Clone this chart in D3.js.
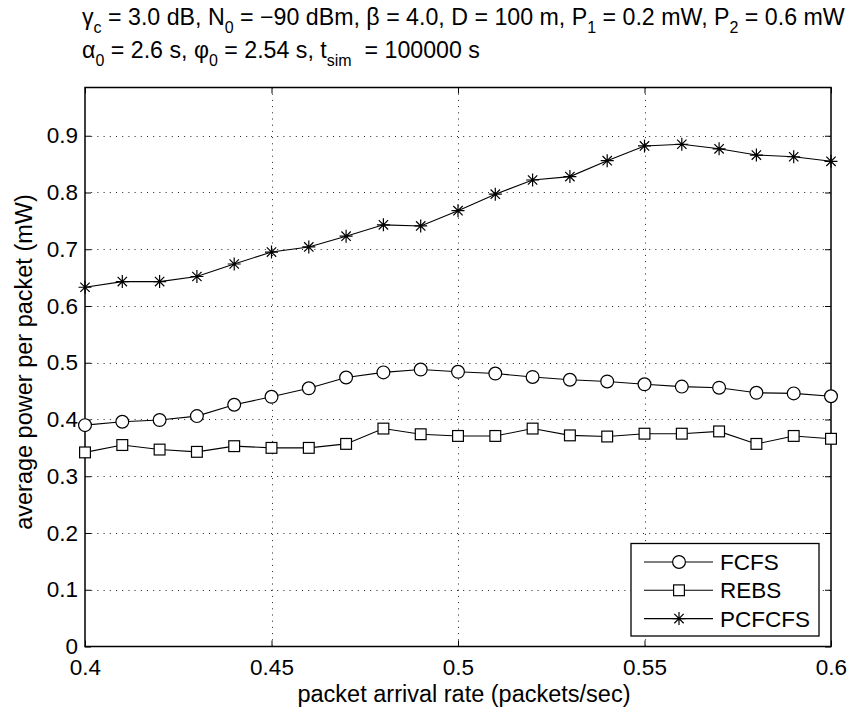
<!DOCTYPE html>
<html>
<head>
<meta charset="utf-8">
<script src="https://cdn.jsdelivr.net/npm/d3@7"></script>
<style>
body { margin: 0; background: #fff; }
text { font-family: "Liberation Sans", Arial, Helvetica, sans-serif; fill: #000; }
</style>
</head>
<body>
<svg id="chart" width="849" height="709"></svg>
<script>
// data
var rates = [0.40,0.41,0.42,0.43,0.44,0.45,0.46,0.47,0.48,0.49,0.50,0.51,0.52,0.53,0.54,0.55,0.56,0.57,0.58,0.59,0.60];
var fcfs = [0.390,0.396,0.399,0.406,0.426,0.440,0.455,0.474,0.483,0.488,0.484,0.481,0.475,0.470,0.467,0.462,0.458,0.456,0.447,0.446,0.441];
var rebs = [0.342,0.355,0.347,0.343,0.353,0.350,0.350,0.357,0.384,0.374,0.371,0.371,0.384,0.372,0.370,0.375,0.375,0.379,0.357,0.371,0.366];
var pcfcfs = [0.633,0.643,0.643,0.652,0.674,0.695,0.704,0.723,0.743,0.741,0.768,0.797,0.822,0.828,0.856,0.882,0.885,0.877,0.866,0.863,0.855];
var seriesNames = ["FCFS","REBS","PCFCFS"];
var seriesMarkers = ["circle","square","star"];
var xTicks = [0.4,0.45,0.5,0.55,0.6];
var xTickLabels = ["0.4","0.45","0.5","0.55","0.6"];
var yTicks = [0,0.1,0.2,0.3,0.4,0.5,0.6,0.7,0.8,0.9];
var yTickLabels = ["0","0.1","0.2","0.3","0.4","0.5","0.6","0.7","0.8","0.9"];

var pLeft = 85, pRight = 831, pTop = 87.5, pBottom = 646.5;

var svg = d3.select("#chart");

var xscale = d3.scaleLinear().domain([0.4,0.6]).range([pLeft,pRight]);
var yscale = d3.scaleLinear().domain([0,0.985]).range([pBottom,pTop]);

// grid
var grid = svg.append("g").attr("class","grid");
grid.selectAll("line.gx")
	.data(xTicks.slice(1,-1))
	.enter().append("line")
		.attr("class","gx")
		.attr("x1",function(d){return Math.round(xscale(d))+0.5;})
		.attr("x2",function(d){return Math.round(xscale(d))+0.5;})
		.attr("y1",pBottom).attr("y2",pTop)
		.attr("stroke","#222").attr("stroke-width",1)
		.attr("stroke-dasharray","1,5.2");
grid.selectAll("line.gy")
	.data(yTicks.slice(1))
	.enter().append("line")
		.attr("class","gy")
		.attr("y1",function(d){return Math.round(yscale(d))+0.5;})
		.attr("y2",function(d){return Math.round(yscale(d))+0.5;})
		.attr("x1",pLeft).attr("x2",pRight)
		.attr("stroke","#222").attr("stroke-width",1)
		.attr("stroke-dasharray","1,5.2");

// axes (matlab style: inward ticks on all four sides)
var xaxis = d3.axisBottom(xscale).tickValues(xTicks)
	.tickFormat(function(d,i){return xTickLabels[i];})
	.tickSizeInner(-6).tickSizeOuter(0).tickPadding(13);
var xaxisTop = d3.axisTop(xscale).tickValues(xTicks).tickFormat("")
	.tickSizeInner(-6).tickSizeOuter(0);
var yaxis = d3.axisLeft(yscale).tickValues(yTicks)
	.tickFormat(function(d,i){return yTickLabels[i];})
	.tickSizeInner(-6).tickSizeOuter(0).tickPadding(7);
var yaxisRight = d3.axisRight(yscale).tickValues(yTicks).tickFormat("")
	.tickSizeInner(-6).tickSizeOuter(0);

function styleAxis(g){
	g.select(".domain").remove();
	g.selectAll("line").attr("stroke","#000");
	g.selectAll("text").attr("font-size","22.5px").attr("font-family","Liberation Sans, Arial, sans-serif").attr("fill","#000");
}

svg.append("g").attr("transform","translate(0,"+pBottom+")").call(xaxis).call(styleAxis);
svg.append("g").attr("transform","translate(0,"+pTop+")").call(xaxisTop).call(styleAxis);
svg.append("g").attr("transform","translate("+pLeft+",0)").call(yaxis).call(styleAxis);
svg.append("g").attr("transform","translate("+pRight+",0)").call(yaxisRight).call(styleAxis);

svg.append("rect")
	.attr("x",pLeft).attr("y",pTop)
	.attr("width",pRight-pLeft).attr("height",pBottom-pTop)
	.attr("fill","none").attr("stroke","#000").attr("stroke-width",1.5);

// series
var line = d3.line()
	.x(function(d){return xscale(d[0]);})
	.y(function(d){return yscale(d[1]);});

function drawMarker(g,type,x,y){
	if(type=="circle"){
		g.append("circle").attr("cx",x).attr("cy",y).attr("r",6.4)
			.attr("fill","#fff").attr("stroke","#000").attr("stroke-width",1.2);
	} else if(type=="square"){
		g.append("rect").attr("x",x-5.4).attr("y",y-5.4).attr("width",10.8).attr("height",10.8)
			.attr("fill","#fff").attr("stroke","#000").attr("stroke-width",1.2);
	} else {
		var r = 6.5, d = r*0.72;
		var p = "M"+(x-r)+","+y+"L"+(x+r)+","+y+
			"M"+x+","+(y-r)+"L"+x+","+(y+r)+
			"M"+(x-d)+","+(y-d)+"L"+(x+d)+","+(y+d)+
			"M"+(x-d)+","+(y+d)+"L"+(x+d)+","+(y-d);
		g.append("path").attr("d",p).attr("stroke","#000").attr("stroke-width",1.2).attr("fill","none");
	}
}

var allSeries = [fcfs, rebs, pcfcfs];
allSeries.forEach(function(vals,k){
	var pts = rates.map(function(r,i){return [r,vals[i]];});
	var g = svg.append("g");
	g.append("path").attr("d",line(pts))
		.attr("fill","none").attr("stroke","#000").attr("stroke-width",1.1);
	pts.forEach(function(p){
		drawMarker(g,seriesMarkers[k],xscale(p[0]),yscale(p[1]));
	});
});

// legend
var lg = svg.append("g");
lg.append("rect").attr("x",631).attr("y",543.5).attr("width",188).attr("height",92.5)
	.attr("fill","#fff").attr("stroke","#000").attr("stroke-width",1.3);
seriesNames.forEach(function(name,k){
	var cy = 562 + k*28.3;
	lg.append("line").attr("x1",644).attr("x2",713).attr("y1",cy).attr("y2",cy)
		.attr("stroke","#000").attr("stroke-width",1.1);
	drawMarker(lg,seriesMarkers[k],679,cy);
	lg.append("text").attr("x",720).attr("y",cy+8).attr("font-size","22.5px").text(name);
});

// axis labels
svg.append("text")
	.attr("x",(pLeft+pRight)/2+6).attr("y",702)
	.attr("text-anchor","middle").attr("font-size","23.5px")
	.text("packet arrival rate (packets/sec)");
svg.append("text")
	.attr("transform","translate(32,"+((pTop+pBottom)/2-5)+") rotate(-90)")
	.attr("text-anchor","middle").attr("font-size","23.5px")
	.text("average power per packet (mW)");

// title, two left aligned lines with subscripts
var titleLines = [
	[["γ"],["c","sub"],[" = 3.0 dB, N"],["0","sub"],[" = −90 dBm, β = 4.0, D = 100 m, P"],["1","sub"],[" = 0.2 mW, P"],["2","sub"],[" = 0.6 mW"]],
	[["α"],["0","sub"],[" = 2.6 s, φ"],["0","sub"],[" = 2.54 s, t"],["sim","sub"],["  = 100000 s"]]
];
titleLines.forEach(function(parts,j){
	var t = svg.append("text").attr("x",82).attr("y",25+j*33).attr("font-size","23.2px")
		.attr("xml:space","preserve");
	parts.forEach(function(p){
		if(p[1]=="sub"){
			t.append("tspan").attr("font-size","16px").attr("dy",7.5).text(p[0]);
		} else {
			var ts = t.append("tspan").text(p[0]);
			if(t.node().childNodes.length>1) ts.attr("dy",-7.5);
		}
	});
});
</script>
</body>
</html>
